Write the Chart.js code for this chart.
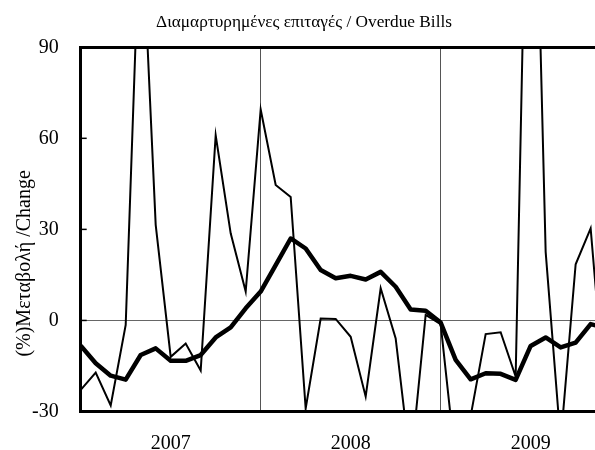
<!DOCTYPE html>
<html>
<head>
<meta charset="utf-8">
<script src="https://cdn.jsdelivr.net/npm/chart.js@4.4.1/dist/chart.umd.min.js"></script>
<style>
html,body{margin:0;padding:0;background:#fff;overflow:hidden}
#wrap{width:595px;height:450px;position:relative}
</style>
</head>
<body>
<div id="wrap"><canvas id="c" width="595" height="450"></canvas></div>
<script>
// ---- data ----
const years = ['2007', '2008', '2009'];
const months = [];
years.forEach(y => { for (let m = 1; m <= 12; m++) months.push(y + '-' + String(m).padStart(2, '0')); });

// thin line: monthly % change
const monthlyChange = [
  -22.9, -17.2, -28.0, -1.5, 140.0, 31.5, -12.0, -7.6, -16.5, 61.0, 28.7, 9.5,
  69.5, 44.6, 40.7, -29.0, 0.6, 0.5, -5.4, -25.1, 10.6, -5.9, -48.0, 1.8,
  -1.2, -47.0, -31.5, -4.5, -3.9, -18.5, 220.0, 22.6, -40.0, 18.5, 30.3, -28.0
];
// thick line: smoothed % change
const trendChange = [
  -8.3, -14.1, -18.2, -19.5, -11.4, -9.2, -13.3, -13.3, -11.4, -5.6, -2.3, 4.0,
  9.5, 18.2, 27.0, 23.7, 16.6, 13.9, 14.7, 13.5, 16.0, 11.1, 3.6, 3.2,
  -0.7, -13.0, -19.4, -17.4, -17.6, -19.6, -8.4, -5.6, -8.9, -7.3, -1.2, -2.5
];
const yTickValues = [-30, 0, 30, 60, 90];
const chartTitle = 'Διαμαρτυρημένες επιταγές / Overdue Bills';
const yAxisTitle = '(%)Μεταβολή /Change';

// derived positions (data units)
const yearStarts = years.map(y => months.indexOf(y + '-01'));
const yearMids = yearStarts.map(s => s + 6);

const FONT = "'Liberation Serif', 'Times New Roman', serif";
Chart.defaults.font.family = FONT;
Chart.defaults.color = '#000';

const toPts = arr => arr.map((v, i) => ({x: i, y: v}));

const innerTicks = {
  id: 'innerTicks',
  afterDraw(chart) {
    const {ctx, chartArea, scales} = chart;
    const ys = scales.y;
    ctx.save();
    ctx.strokeStyle = '#000';
    ctx.lineWidth = 1.5;
    yTickValues.forEach(v => {
      const py = ys.getPixelForValue(v);
      ctx.beginPath();
      ctx.moveTo(chartArea.left, py);
      ctx.lineTo(chartArea.left + 6, py);
      ctx.stroke();
    });
    // y axis title
    ctx.fillStyle = '#000';
    ctx.font = '20px ' + FONT;
    ctx.textAlign = 'center';
    ctx.textBaseline = 'middle';
    ctx.translate(25, (chartArea.top + chartArea.bottom) / 2 + 34);
    ctx.rotate(-Math.PI / 2);
    ctx.fillText(yAxisTitle, 0, 0);
    ctx.restore();
  }
};

new Chart(document.getElementById('c'), {
  type: 'line',
  data: {
    datasets: [
      {data: toPts(monthlyChange), borderColor: '#000', borderWidth: 2, pointRadius: 0, tension: 0, fill: false, clip: 0},
      {data: toPts(trendChange), borderColor: '#000', borderWidth: 4.5, pointRadius: 0, tension: 0, fill: false, clip: 0,
       borderJoinStyle: 'round', borderCapStyle: 'butt'}
    ]
  },
  options: {
    responsive: false,
    animation: false,
    events: [],
    layout: {padding: {left: 13, right: 0, top: 0, bottom: 0}},
    plugins: {
      legend: {display: false},
      tooltip: {enabled: false},
      title: {display: true, text: chartTitle, color: '#000',
        font: {family: FONT, size: 17.3, weight: 'normal'}, padding: {top: 12, bottom: 14.5}}
    },
    scales: {
      x: {
        type: 'linear', position: 'bottom', min: 0, max: 34.29,
        afterBuildTicks: s => { s.ticks = yearMids.map(v => ({value: v})); },
        afterFit: s => { s.height = 38.5; },
        ticks: {callback: v => years[yearMids.indexOf(v)], font: {size: 20}, color: '#000',
          padding: 20, maxRotation: 0, autoSkip: false},
        grid: {display: false, drawTicks: false},
        border: {display: true, color: '#000', width: 3}
      },
      xTop: {
        type: 'linear', position: 'top', min: 0, max: 34.29,
        afterBuildTicks: s => { s.ticks = yearStarts.filter(v => v > 0).map(v => ({value: v})); },
        afterFit: s => { s.height = 0; },
        ticks: {display: false},
        grid: {color: '#555', lineWidth: 1, drawTicks: false},
        border: {display: true, color: '#000', width: 3}
      },
      y: {
        min: -30, max: 90,
        afterBuildTicks: s => { s.ticks = yTickValues.map(v => ({value: v})); },
        afterFit: s => { s.width = 80.7 - 13; },
        ticks: {font: {size: 20}, color: '#000', padding: 22},
        grid: {color: c => (c.tick && c.tick.value === 0) ? '#666' : 'rgba(0,0,0,0)', lineWidth: 1, drawTicks: false},
        border: {display: true, color: '#000', width: 3}
      }
    }
  },
  plugins: [innerTicks]
});
</script>
</body>
</html>
